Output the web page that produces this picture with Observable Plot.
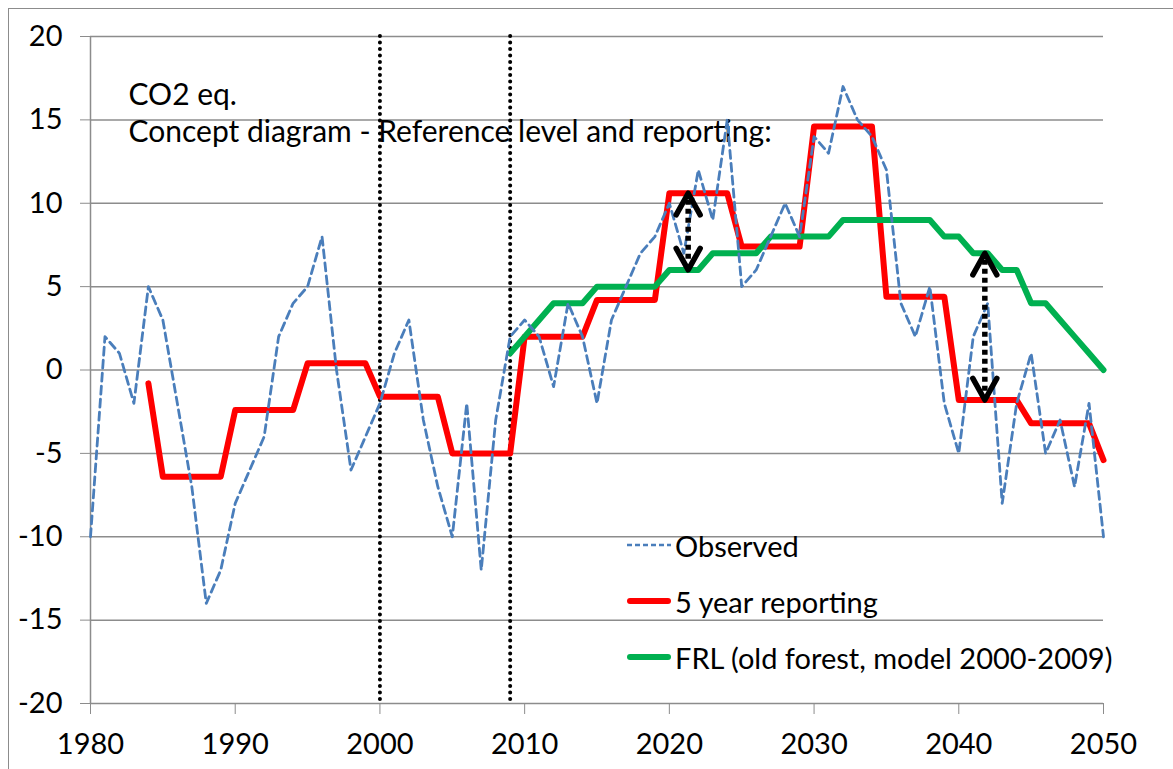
<!DOCTYPE html>
<html><head><meta charset="utf-8">
<script src="https://cdn.jsdelivr.net/npm/d3@7"></script>
<script src="https://cdn.jsdelivr.net/npm/@observablehq/plot@0.6"></script>
<style>
body{margin:0;background:#fff;overflow:hidden;font-family:Lato,"Open Sans",sans-serif;}
#wrap{position:relative;width:1173px;height:769px;overflow:hidden;}
#border{position:absolute;left:8px;top:8px;width:1300px;height:900px;border:1.5px solid #8c8c8c;}
#chart{position:absolute;left:0;top:0;}
#legend{position:absolute;left:627px;top:517px;font-size:29px;color:#000;}
.row{height:56px;display:flex;align-items:center;white-space:nowrap;}
.row svg{margin-right:4px;}
</style></head><body>
<div id="wrap"><div id="border"></div><div id="chart"></div><div id="legend"></div></div>
<script>
const years = d3.range(1980, 2051);
const observed = [-10, 2, 1, -2, 5, 3, -2, -7, -14, -12,
  -8, -6, -4, 2, 4, 5, 8, 0, -6, -4,
  -2, 1, 3, -3, -7, -10, -2, -12, -3, 2,
  3, 2, -1, 4, 2, -2, 3, 5, 7, 8,
  10, 7, 12, 9, 15, 5, 6, 8, 10, 8,
  14, 13, 17, 15, 14, 12, 4, 2, 5, -2,
  -5, 2, 4, -8, -2, 1, -5, -3, -7, -2,
  -10];
const reportYears = d3.range(1984, 2051);
const reportValues = [-0.8,
  -6.4, -6.4, -6.4, -6.4, -6.4,
  -2.4, -2.4, -2.4, -2.4, -2.4,
  0.4, 0.4, 0.4, 0.4, 0.4,
  -1.6, -1.6, -1.6, -1.6, -1.6,
  -5, -5, -5, -5, -5,
  2, 2, 2, 2, 2,
  4.2, 4.2, 4.2, 4.2, 4.2,
  10.6, 10.6, 10.6, 10.6, 10.6,
  7.4, 7.4, 7.4, 7.4, 7.4,
  14.6, 14.6, 14.6, 14.6, 14.6,
  4.4, 4.4, 4.4, 4.4, 4.4,
  -1.8, -1.8, -1.8, -1.8, -1.8,
  -3.2, -3.2, -3.2, -3.2, -3.2,
  -5.4];
const frlYears = d3.range(2009, 2051);
const frlValues = [1, 2, 3, 4, 4, 4, 5, 5, 5, 5,
  5, 6, 6, 6, 7, 7, 7, 7, 8, 8,
  8, 8, 8, 9, 9, 9, 9, 9, 9, 9,
  8, 8, 7, 7, 6, 6, 4, 4, 3, 2,
  1, 0];
const markerYears = [2000, 2009];
const arrowX = [2021.3, 2041.8];
const arrowTop = [10.6, 7];
const arrowBottom = [6, -1.8];
const yTicks = [-20, -15, -10, -5, 0, 5, 10, 15, 20];
const xTicks = [1980, 1990, 2000, 2010, 2020, 2030, 2040, 2050];
const annotation = ["CO2 eq.", "Concept diagram - Reference level and reporting:"];
const seriesNames = ["Observed", "5 year reporting", "FRL (old forest, model 2000-2009)"];
const colors = {obs: "#4a7ebb", rep: "#ff0000", frl: "#00b050"};

const obsData = years.map((x, i) => ({x, y: observed[i]}));
const repData = reportYears.map((x, i) => ({x, y: reportValues[i]}));
const frlData = frlYears.map((x, i) => ({x, y: frlValues[i]}));
const arrows = arrowX.map((x, i) => ({x, top: arrowTop[i], bottom: arrowBottom[i]}));

const chevronUp = {draw(ctx, size) { const r = Math.sqrt(size / Math.PI); ctx.moveTo(-r, 1.8 * r); ctx.lineTo(0, 0); ctx.lineTo(r, 1.8 * r); }};
const chevronDown = {draw(ctx, size) { const r = Math.sqrt(size / Math.PI); ctx.moveTo(-r, -1.8 * r); ctx.lineTo(0, 0); ctx.lineTo(r, -1.8 * r); }};

const FS = 29;
const chart = Plot.plot({
  width: 1173,
  height: 769,
  marginLeft: 90,
  marginRight: 70,
  marginTop: 36,
  marginBottom: 66,
  style: {fontFamily: "Lato, 'Open Sans', sans-serif", fontSize: FS + "px", background: "transparent", overflow: "visible"},
  x: {domain: [1980, 2050], axis: null},
  y: {domain: [-20, 20], axis: null},
  marks: [
    Plot.ruleY(yTicks, {stroke: "#8c8c8c", strokeWidth: 1.5}),
    Plot.ruleX([1980], {stroke: "#8c8c8c", strokeWidth: 1.5}),
    Plot.axisY({ticks: yTicks, tickSize: 10, tickPadding: 18, stroke: "#8c8c8c", color: "#000", fontSize: FS, label: null, tickFormat: d => String(d)}),
    Plot.axisX({ticks: xTicks, tickSize: 11, tickPadding: 19, stroke: "#8c8c8c", color: "#000", fontSize: FS, label: null, tickFormat: d => String(d)}),
    Plot.ruleX(markerYears, {stroke: "#000", strokeWidth: 4, strokeDasharray: "0,6.5", strokeLinecap: "round"}),
    Plot.text([annotation.join("\n")], {frameAnchor: "top-left", dx: 38, dy: 42, lineAnchor: "top", lineHeight: 1.24, fontSize: 30, fill: "#000", text: d => d}),
    Plot.line(repData, {x: "x", y: "y", stroke: colors.rep, strokeWidth: 6, strokeLinejoin: "round", strokeLinecap: "round"}),
    Plot.line(frlData, {x: "x", y: "y", stroke: colors.frl, strokeWidth: 6, strokeLinejoin: "round", strokeLinecap: "round"}),
    Plot.line(obsData, {x: "x", y: "y", stroke: colors.obs, strokeWidth: 2.8, strokeDasharray: "8,5"}),
    Plot.ruleX(arrows, {x: "x", y1: "top", y2: "bottom", insetTop: 7, insetBottom: 7, stroke: "#000", strokeWidth: 5.5, strokeDasharray: "5,4"}),
    Plot.dot(arrows, {x: "x", y: "top", symbol: chevronUp, r: 12, fill: "none", stroke: "#000", strokeWidth: 5.5, strokeLinejoin: "round", strokeLinecap: "round"}),
    Plot.dot(arrows, {x: "x", y: "bottom", symbol: chevronDown, r: 12, fill: "none", stroke: "#000", strokeWidth: 5.5, strokeLinejoin: "round", strokeLinecap: "round"})
  ]
});
document.getElementById("chart").appendChild(chart);

const legendStyles = [
  {color: colors.obs, width: 2.5, dash: "5,3"},
  {color: colors.rep, width: 6, dash: null},
  {color: colors.frl, width: 6, dash: null}
];
const legend = document.getElementById("legend");
seriesNames.forEach((name, i) => {
  const s = legendStyles[i];
  const row = document.createElement("div");
  row.className = "row";
  row.innerHTML = `<svg width="44" height="10"><line x1="${s.dash ? 0 : 3}" x2="${s.dash ? 44 : 41}" y1="5" y2="5" stroke="${s.color}" stroke-width="${s.width}" ${s.dash ? `stroke-dasharray="${s.dash}"` : 'stroke-linecap="round"'}/></svg><span>${name}</span>`;
  legend.appendChild(row);
});
</script></body></html>
